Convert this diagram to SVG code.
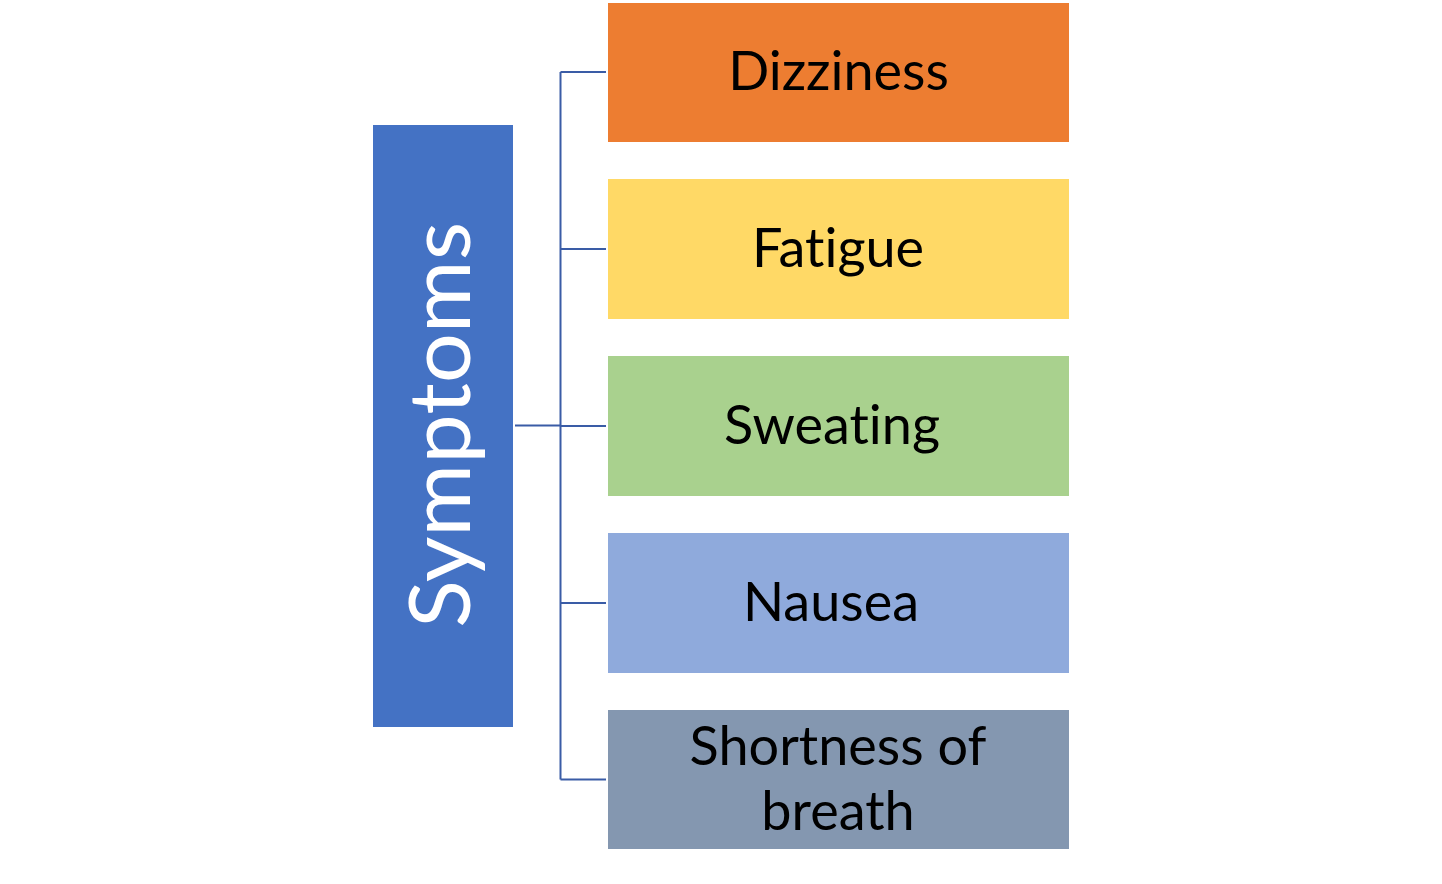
<svg xmlns="http://www.w3.org/2000/svg" width="1442" height="884" viewBox="0 0 1442 884">
<style>
.t{font-family:Lato,"Open Sans","Liberation Sans",sans-serif;font-size:54px;fill:#000;text-anchor:middle;font-variant-ligatures:none}
.c{stroke:#3A5CA6;stroke-width:2;fill:none}
</style>
<rect width="1442" height="884" fill="#fff"/>
<g id="connectors">
<path class="c" d="M515 425.5H560.5M560.5 72V779.5M560.5 72H606M560.5 249H606M560.5 426H606M560.5 603H606M560.5 779.5H606"/>
</g>
<g id="symptoms">
<rect x="373" y="125" width="140" height="602" fill="#4472C4"/>
<text transform="translate(470 425) rotate(-90)" textLength="406" lengthAdjust="spacingAndGlyphs" style="font-family:Lato,'Open Sans','Liberation Sans',sans-serif;font-size:86px;fill:#fff;text-anchor:middle">Symptoms</text>
</g>
<g id="dizziness">
<rect x="608" y="3" width="461" height="139" fill="#ED7D31"/>
<text class="t" x="838.5" y="90">Dizziness</text>
</g>
<g id="fatigue">
<rect x="608" y="179" width="461" height="140" fill="#FFD966"/>
<text class="t" x="838" y="267">Fatigue</text>
</g>
<g id="sweating">
<rect x="608" y="356" width="461" height="140" fill="#A9D18E"/>
<text class="t" x="832" y="444">Sweating</text>
</g>
<g id="nausea">
<rect x="608" y="533" width="461" height="140" fill="#8FAADC"/>
<text class="t" x="831" y="621">Nausea</text>
</g>
<g id="shortness">
<rect x="608" y="710" width="461" height="139" fill="#8497B0"/>
<text class="t" x="838" y="765">Shortness of</text>
<text class="t" x="838" y="830">breath</text>
</g>
</svg>
